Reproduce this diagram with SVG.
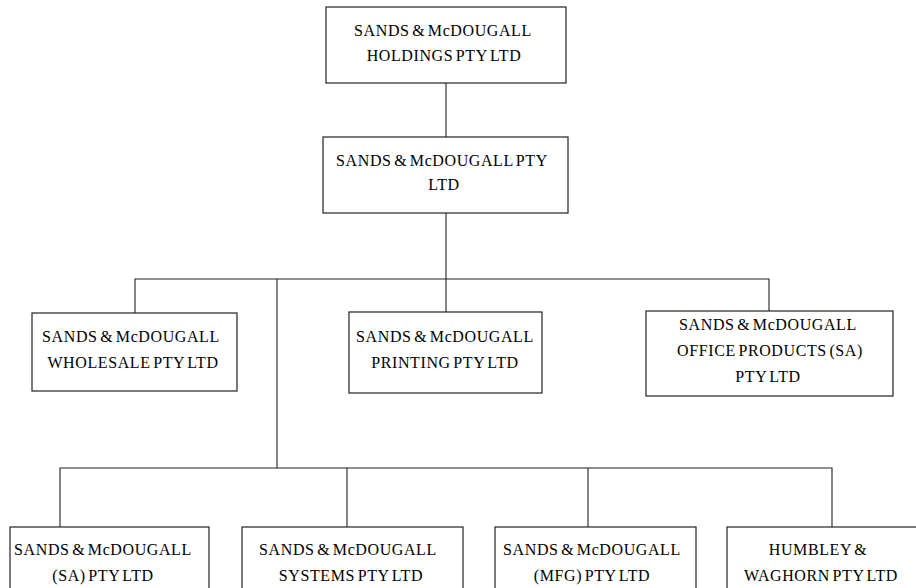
<svg xmlns="http://www.w3.org/2000/svg" width="916" height="588" viewBox="0 0 916 588">
<style>
.box{fill:#fff;stroke:#222;stroke-width:1.2}
.ln{fill:none;stroke:#222;stroke-width:1.1}
text{font-family:"Liberation Serif","Times New Roman",serif;font-size:16px;letter-spacing:0.6px;word-spacing:-2px;fill:#000;text-anchor:middle}
</style>
<rect width="916" height="588" fill="#fff"/>
<g id="connectors">
<path class="ln" d="M446 83V137"/>
<path class="ln" d="M446 213V279"/>
<path class="ln" d="M135 313V279H769V311"/>
<path class="ln" d="M446 279V312"/>
<path class="ln" d="M277 279V468"/>
<path class="ln" d="M60 527V468H832V527"/>
<path class="ln" d="M347 468V527"/>
<path class="ln" d="M588 468V527"/>
</g>
<g id="holdings">
<rect class="box" x="326" y="7" width="240" height="76"/>
<text x="443" y="36">SANDS &amp; McDOUGALL</text>
<text x="444" y="61">HOLDINGS PTY LTD</text>
</g>
<g id="smpl">
<rect class="box" x="323" y="137" width="245" height="76"/>
<text x="442" y="166">SANDS &amp; McDOUGALL PTY</text>
<text x="444" y="190">LTD</text>
</g>
<g id="wholesale">
<rect class="box" x="32" y="313" width="205" height="78"/>
<text x="131" y="342">SANDS &amp; McDOUGALL</text>
<text x="133" y="368">WHOLESALE PTY LTD</text>
</g>
<g id="printing">
<rect class="box" x="349" y="312" width="193" height="81"/>
<text x="445" y="342">SANDS &amp; McDOUGALL</text>
<text x="445" y="368">PRINTING PTY LTD</text>
</g>
<g id="office">
<rect class="box" x="646" y="311" width="247" height="85"/>
<text x="768" y="330">SANDS &amp; McDOUGALL</text>
<text x="770" y="356">OFFICE PRODUCTS (SA)</text>
<text x="768" y="382">PTY LTD</text>
</g>
<g id="sa">
<rect class="box" x="10" y="527" width="199" height="80"/>
<text x="103" y="555">SANDS &amp; McDOUGALL</text>
<text x="103" y="581">(SA) PTY LTD</text>
</g>
<g id="systems">
<rect class="box" x="242" y="527" width="221" height="80"/>
<text x="348" y="555">SANDS &amp; McDOUGALL</text>
<text x="351" y="581">SYSTEMS PTY LTD</text>
</g>
<g id="mfg">
<rect class="box" x="495" y="527" width="201" height="80"/>
<text x="592" y="555">SANDS &amp; McDOUGALL</text>
<text x="592" y="581">(MFG) PTY LTD</text>
</g>
<g id="humbley">
<rect class="box" x="727" y="527" width="200" height="80"/>
<text x="818" y="555">HUMBLEY &amp;</text>
<text x="821" y="581">WAGHORN PTY LTD</text>
</g>
</svg>
